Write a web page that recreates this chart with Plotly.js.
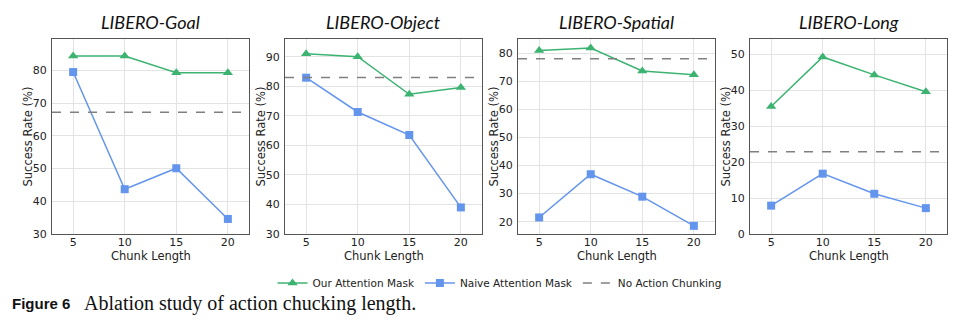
<!DOCTYPE html>
<html><head><meta charset="utf-8">
<script src="https://cdn.plot.ly/plotly-3.0.1.min.js"></script>
<style>body{margin:0;background:#fff}#c{width:957px;height:323px}</style>
</head><body><div id="c"></div>
<script>
const chunkLengths = [5, 10, 15, 20];
const panelTitles = ["LIBERO-Goal", "LIBERO-Object", "LIBERO-Spatial", "LIBERO-Long"];
const ourMask = [
  [84.4, 84.4, 79.3, 79.3],
  [91.0, 90.0, 77.3, 79.6],
  [81.0, 81.9, 73.7, 72.4],
  [35.5, 49.3, 44.3, 39.6]
];
const naiveMask = [
  [79.5, 43.7, 50.1, 34.6],
  [82.9, 71.3, 63.5, 39.0],
  [21.5, 36.9, 28.9, 18.5],
  [7.9, 16.8, 11.2, 7.2]
];
const noChunking = [67.2, 83.0, 78.1, 22.9];
const yRanges = [[30, 89.6], [30, 96], [15.6, 85.1], [0, 54.3]];
const yTicks = [[30,40,50,60,70,80],[30,40,50,60,70,80,90],[20,30,40,50,60,70,80],[0,10,20,30,40,50]];
const seriesNames = ["Our Attention Mask", "Naive Attention Mask", "No Action Chunking"];
const xTitle = "Chunk Length", yTitle = "Success Rate (%)";

const W = 957, H = 323;
const xPix = [[52,249],[285,482],[518,715],[750,947]];
const yDom = [1-234/H, 1-39/H];
const xRange = [2.95, 22.05];
const green = "#3cb371", blue = "#6495ed", gray = "#808080";

const data = [], layout = {
  width: W, height: H, margin: {l:0,r:0,t:0,b:0},
  paper_bgcolor: "#fff", plot_bgcolor: "#fff",
  font: {family: "DejaVu Sans", color: "#222", size: 11},
  showlegend: true,
  legend: {orientation: "h", x: 0.522, xanchor: "center", y: 1-283/H, yanchor: "middle",
           font: {family: "DejaVu Sans", size: 10.5, color: "#222"}, itemwidth: 30, tracegroupgap: 0,
           bgcolor: "rgba(0,0,0,0)"},
  annotations: [], shapes: []
};
for (let i = 0; i < 4; i++) {
  const xa = i === 0 ? "x" : "x" + (i+1), ya = i === 0 ? "y" : "y" + (i+1);
  data.push({x: chunkLengths, y: ourMask[i], xaxis: xa, yaxis: ya, type: "scatter", mode: "lines+markers",
    name: seriesNames[0], showlegend: i === 0, legendgroup: "a",
    line: {color: green, width: 1.5}, marker: {symbol: "triangle-up", size: 9, color: green}});
  data.push({x: chunkLengths, y: naiveMask[i], xaxis: xa, yaxis: ya, type: "scatter", mode: "lines+markers",
    name: seriesNames[1], showlegend: i === 0, legendgroup: "b",
    line: {color: blue, width: 1.5}, marker: {symbol: "square", size: 8, color: blue}});
  data.push({x: xRange, y: [noChunking[i], noChunking[i]], xaxis: xa, yaxis: ya, type: "scatter", mode: "lines",
    name: seriesNames[2], showlegend: i === 0, legendgroup: "c",
    line: {color: gray, width: 1.5, dash: "dash"}});
  const axCommon = {showline: true, linecolor: "#555", linewidth: 1, mirror: true,
    showgrid: true, gridcolor: "#e3e3e3", gridwidth: 1, zeroline: false,
    ticks: "", tickfont: {size: 11, color: "#222"}};
  layout["xaxis" + (i === 0 ? "" : i+1)] = Object.assign({}, axCommon, {
    domain: [xPix[i][0]/W, xPix[i][1]/W], anchor: ya, range: xRange,
    tickvals: chunkLengths, ticktext: chunkLengths.map(String), ticklabelstandoff: -2});
  layout["yaxis" + (i === 0 ? "" : i+1)] = Object.assign({}, axCommon, {
    domain: yDom, anchor: xa, range: yRanges[i], tickvals: yTicks[i], ticklabelstandoff: 2});
  layout.annotations.push({text: "<i>" + panelTitles[i] + "</i>", xref: "paper", yref: "paper",
    x: (xPix[i][0]+xPix[i][1])/2/W, y: 1-22/H, xanchor: "center", yanchor: "middle", showarrow: false,
    font: {family: "Lato", size: 18, color: "#111"}});
  layout.annotations.push({text: xTitle, xref: "paper", yref: "paper",
    x: (xPix[i][0]+xPix[i][1])/2/W, y: 1-256/H, xanchor: "center", yanchor: "middle", showarrow: false,
    font: {size: 11.5, color: "#222"}});
  layout.annotations.push({text: yTitle, xref: "paper", yref: "paper", textangle: -90,
    x: (xPix[i][0]-25)/W, y: 1-136.5/H, xanchor: "center", yanchor: "middle", showarrow: false,
    font: {size: 11.5, color: "#222"}});
}
layout.annotations.push({text: "<b>Figure 6</b>", xref: "paper", yref: "paper", x: 10/W, y: 1-303/H,
  xanchor: "left", yanchor: "middle", showarrow: false, font: {family: "Liberation Sans", size: 15, color: "#111"}});
layout.annotations.push({text: "Ablation study of action chucking length.", xref: "paper", yref: "paper", x: 82/W, y: 1-303/H,
  xanchor: "left", yanchor: "middle", showarrow: false, font: {family: "Liberation Serif", size: 20, color: "#111"}});
Plotly.newPlot("c", data, layout, {displayModeBar: false, staticPlot: true});
</script></body></html>
